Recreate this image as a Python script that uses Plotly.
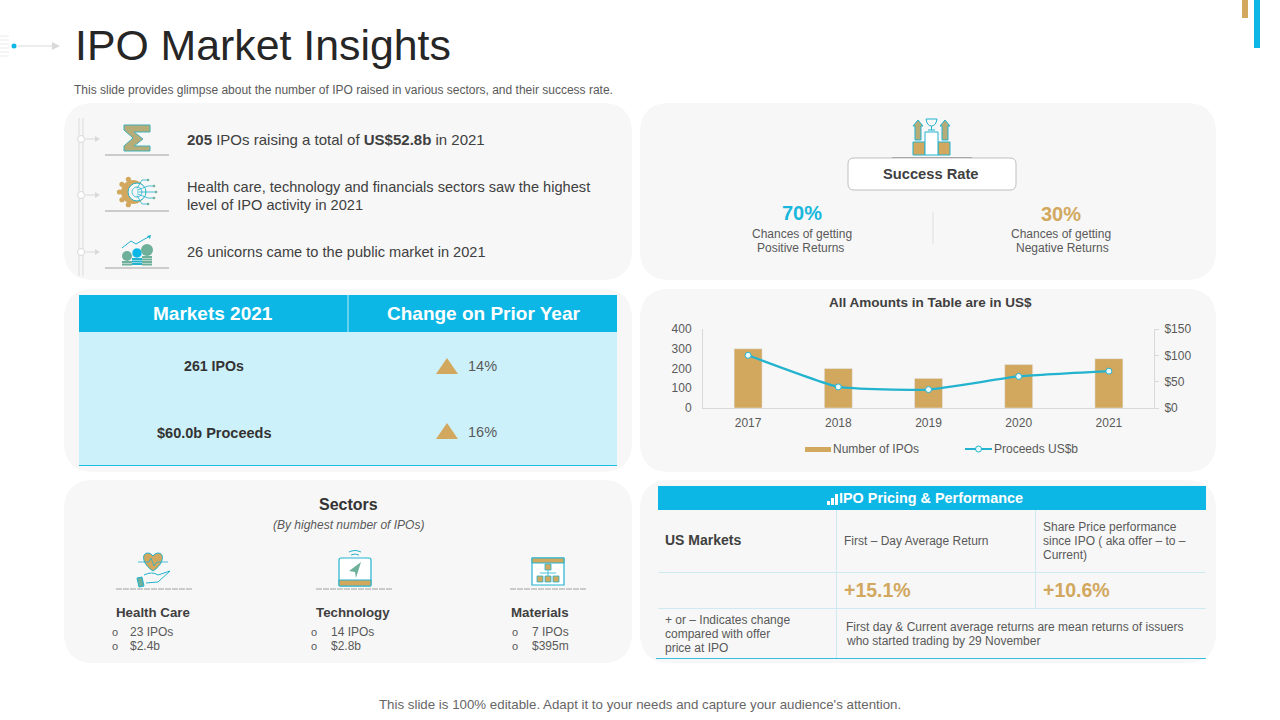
import math
import plotly.graph_objects as go

# chart data
years = ["2017", "2018", "2019", "2020", "2021"]
ipo_counts = [300, 200, 150, 220, 250]
proceeds = [100, 40, 35, 60, 70]
left_ticks = [0, 100, 200, 300, 400]
right_ticks = [0, 50, 100, 150]
right_labels = ["$0", "$50", "$100", "$150"]

# text blocks
sector_names = ["Health Care", "Technology", "Materials"]
sector_ipos = ["23 IPOs", "14 IPOs", "7 IPOs"]
sector_money = ["$2.4b", "$2.8b", "$395m"]
market_rows = ["261 IPOs", "$60.0b Proceeds"]
market_changes = ["14%", "16%"]

W, H = 1280, 720
FONT = "Liberation Sans"
CYAN = "#0DB7E5"
TEAL = "#23B3CF"
TAN = "#D2A85F"
GREEN = "#6FB09A"
PANEL = "#F7F7F7"
DARK = "#404040"
GREY = "#595959"

shapes = []
annotations = []


def px(x):
    return x / W


def py(y):
    return 1 - y / H


def path(cmds, fill=None, color=None, width=1, dash=None):
    # cmds are svg path commands in pixel coords of the slide
    out = []
    for c in cmds:
        nums = c[1:]
        pts = []
        for i in range(0, len(nums), 2):
            pts.append(f"{px(nums[i]):.5f},{py(nums[i + 1]):.5f}")
        out.append(c[0] + " ".join(pts))
    shapes.append(dict(type="path", path=" ".join(out), xref="paper", yref="paper", layer="below",
                       fillcolor=fill or "rgba(0,0,0,0)",
                       line=dict(color=color or "rgba(0,0,0,0)", width=width if color else 0, dash=dash)))


def rect(x0, y0, x1, y1, fill=None, color=None, width=1):
    path([("M", x0, y0), ("L", x1, y0), ("L", x1, y1), ("L", x0, y1), ("Z",)], fill, color, width)


def rrect(x0, y0, x1, y1, r, fill=None, color=None, width=1):
    path([("M", x0 + r, y0), ("L", x1 - r, y0), ("Q", x1, y0, x1, y0 + r), ("L", x1, y1 - r),
          ("Q", x1, y1, x1 - r, y1), ("L", x0 + r, y1), ("Q", x0, y1, x0, y1 - r),
          ("L", x0, y0 + r), ("Q", x0, y0, x0 + r, y0), ("Z",)], fill, color, width)


def seg(x0, y0, x1, y1, color, width=1, dash=None):
    path([("M", x0, y0), ("L", x1, y1)], None, color, width, dash)


def poly(pts, fill=None, color=None, width=1):
    cmds = [("M", *pts[0])] + [("L", *p) for p in pts[1:]] + [("Z",)]
    path(cmds, fill, color, width)


def dot(cx, cy, r, fill=None, color=None, width=1):
    shapes.append(dict(type="circle", xref="paper", yref="paper", layer="below",
                       x0=px(cx - r), x1=px(cx + r), y0=py(cy + r), y1=py(cy - r),
                       fillcolor=fill or "rgba(0,0,0,0)",
                       line=dict(color=color or "rgba(0,0,0,0)", width=width if color else 0)))


def label(x, y, text, size=12, color=GREY, anchor="left"):
    # left aligned annotations sit about a pixel to the right of the given x
    if anchor == "left":
        x -= 1
    annotations.append(dict(x=px(x), y=py(y), xref="paper", yref="paper", text=text, showarrow=False,
                            xanchor=anchor, yanchor="middle", align=anchor, borderpad=0,
                            font=dict(family=FONT, size=size, color=color)))


# panels
for x0, y0, x1, y1 in [(64, 103, 632, 280), (640, 103, 1216, 280), (64, 289, 632, 472),
                       (640, 289, 1216, 472), (64, 480, 632, 663), (640, 480, 1216, 663)]:
    rrect(x0, y0, x1, y1, 30, PANEL)

# top corner bars and header ornament
rect(1242, 0, 1248, 18, TAN)
rect(1254, 0, 1260, 48, CYAN)
for yy in [36, 40, 44, 48, 52, 56]:
    seg(0, yy, 9, yy, "#E3E3E3", 0.7)
seg(18, 46, 52, 46, "#D9D9D9", 1)
poly([(52, 42), (60, 46), (52, 50)], "#D9D9D9")
dot(14, 46, 2.5, CYAN)

# title
label(75, 45, "IPO Market Insights", 42.8, "#262626")
label(74, 90, "This slide provides glimpse about the number of IPO raised in various sectors, and their success rate.", 12, GREY)
label(640, 704, "This slide is 100% editable. Adapt it to your needs and capture your audience's attention.", 13.3, "#666666", "center")

# timeline on the left of the first panel
seg(79, 118, 79, 276, "#DDDDDD", 1)
seg(83, 118, 83, 276, "#DDDDDD", 1)
for yy in [139, 195, 252]:
    dot(81, yy, 3.5, "#FFFFFF", "#D9D9D9")
    seg(85, yy, 95, yy, "#D9D9D9", 1)
    poly([(95, yy - 3), (100, yy), (95, yy + 3)], "#D9D9D9")
    seg(105, yy + 16, 169, yy + 16, "#8C8C8C", 0.8)

# sigma icon
poly([(124, 125), (150, 125), (150, 132), (134, 132), (143, 139), (134, 146), (150, 146), (150, 151),
      (124, 151), (124, 146), (133, 138), (124, 130)], "#B5AC78", "#3FB0B8", 1)

# gear icon
for k in range(5):
    a = math.radians(110 + k * 35)
    dot(133 + 13.5 * math.cos(a), 192 - 13.5 * math.sin(a), 2.6, TAN)
dot(133, 192, 12, TAN)
dot(137, 192, 9, PANEL, TEAL, 1)
dot(137, 192, 5, PANEL, TEAL, 0.8)
for yy, xx in [(180, 147), (186, 153), (192, 155), (198, 153), (204, 147)]:
    path([("M", 137, 192 + (yy - 192) * 0.3), ("L", xx - 5, yy), ("L", xx, yy)], None, TEAL, 0.8)
    dot(xx + 1, yy, 1.3, GREEN)

# coins icon
dot(127, 256, 5, GREEN)
dot(137, 253, 5, CYAN, "#FFFFFF", 0.5)
dot(147, 250, 6, GREEN)
for yy in [261, 263.5]:
    rect(122, yy, 132, yy + 2, GREEN)
for yy in [258, 260.5, 263]:
    rect(132, yy, 142, yy + 2, TEAL)
for yy in [256, 258.5, 261, 263.5]:
    rect(142, yy, 152, yy + 2, GREEN)
path([("M", 122, 248), ("L", 131, 241), ("L", 136, 244), ("L", 150, 236)], None, TEAL, 1)
poly([(147, 236), (151, 235), (150, 239)], TEAL)

label(187, 140, "<b>205</b> IPOs raising a total of <b>US$52.8b</b> in 2021", 15, DARK)
label(187, 187, "Health care, technology and financials sectors saw the highest", 14.6, DARK)
label(187, 205, "level of IPO activity in 2021", 14.6, DARK)
label(187, 252, "26 unicorns came to the public market in 2021", 14.6, DARK)

# success rate
path([("M", 892, 157.5), ("L", 972, 157.5)], None, "#777777", 0.8)
rect(913, 142, 925, 155, TAN, TEAL, 1)
rect(938, 142, 950, 155, TAN, TEAL, 1)
rect(925, 132, 938, 155, "#FFFFFF", TEAL, 1)
poly([(918, 120), (923, 126), (921, 126), (921, 140), (915, 140), (915, 126), (913, 126)], "#B5AC78", TEAL, 1)
poly([(945, 120), (950, 126), (948, 126), (948, 140), (942, 140), (942, 126), (940, 126)], "#B5AC78", TEAL, 1)
path([("M", 926, 119), ("L", 937, 119), ("Q", 936, 126, 931.5, 126), ("Q", 927, 126, 926, 119), ("Z",)], None, TEAL, 1)
seg(931.5, 126, 931.5, 130, TEAL, 1)
seg(928, 130, 935, 130, TEAL, 1)
rrect(848, 158, 1016, 190, 6, "#FFFFFF", "#BFBFBF", 1)
label(931, 174, "<b>Success Rate</b>", 14.7, DARK, "center")
label(802, 213, "<b>70%</b>", 20, "#1AB7DD", "center")
label(1061, 214, "<b>30%</b>", 20, TAN, "center")
label(802, 234, "Chances of getting", 12, GREY, "center")
label(800, 248, "Positive Returns", 12, GREY, "center")
label(1061, 234, "Chances of getting", 12, GREY, "center")
label(1062, 248, "Negative Returns", 12, GREY, "center")
seg(933, 212, 933, 244, "#DEDEDE", 1)

# markets table
rect(79, 295, 617, 332, CYAN)
rect(79, 332, 617, 465, "#CDF1FA")
seg(79, 465.5, 617, 465.5, "#19BDE4", 1)
seg(348, 295, 348, 332, "#BDEBF7", 1)
label(213, 313, "<b>Markets 2021</b>", 19, "#FFFFFF", "center")
label(483, 313, "<b>Change on Prior Year</b>", 19, "#FFFFFF", "center")
for yy, row, chg, size in zip([366, 433], market_rows, market_changes, [14.2, 14.5]):
    label(213.5, yy, f"<b>{row}</b>", size, "#333333", "center")
    label(468, yy - (1 if yy == 433 else 0), chg, 14.5, GREY)
poly([(436, 374), (447, 358), (458, 374)], TAN)
poly([(436, 439), (447, 423), (458, 439)], TAN)

# sectors
label(348, 505, "<b>Sectors</b>", 16, "#333333", "center")
label(348, 525, "<i>(By highest number of IPOs)</i>", 12, GREY, "center")
for i, (cx, nx, ox, tx) in enumerate([(154, 153, 115, 130), (354, 353, 314, 331), (548, 540, 515, 532)]):
    seg(cx - 38, 589, cx + 38, 589, "#8C8C8C", 0.8, "6px,1px")
    label(nx, 612, f"<b>{sector_names[i]}</b>", 13.3, DARK, "center")
    label(ox, 632, "o", 11, GREY, "center")
    label(ox, 646, "o", 11, GREY, "center")
    label(tx, 632, sector_ipos[i], 12, GREY)
    label(tx, 646, sector_money[i], 12, GREY)

# heart icon
path([("M", 153, 571), ("C", 142, 564, 141, 553, 148, 553), ("Q", 151, 553, 153, 556),
      ("Q", 155, 553, 158, 553), ("C", 165, 553, 164, 564, 153, 571), ("Z",)], TAN, TEAL, 1)
path([("M", 138, 562), ("L", 149, 562), ("L", 151, 558), ("L", 154, 566), ("L", 157, 562), ("L", 168, 562)], None, TEAL, 0.8)
path([("M", 144, 575), ("Q", 152, 571, 158, 575), ("L", 170, 571), ("L", 158, 582), ("L", 146, 583)], None, TEAL, 1)
poly([(137, 578), (142, 577), (144, 586), (139, 587)], GREEN, TEAL, 1)

# tablet icon
rrect(339, 558, 371, 586, 2, "#FFFFFF", TEAL, 1.2)
rect(339, 580, 371, 586, TAN, TEAL, 1)
poly([(361, 562), (349, 571), (355, 572), (356, 578)], GREEN)
path([("M", 349, 552), ("Q", 355, 549, 361, 552)], None, TEAL, 1)
path([("M", 351, 555), ("Q", 355, 553, 359, 555)], None, TEAL, 1)

# folder icon
rect(532, 558, 564, 585, "#FFFFFF", TEAL, 1.2)
rect(532, 558, 564, 563, TAN, TEAL, 1)
rect(545, 564, 551, 570, TAN, TEAL, 0.8)
for xx in [537, 545, 553]:
    rect(xx, 576, xx + 6, 582, TAN, TEAL, 0.8)
seg(548, 570, 548, 576, TEAL, 0.8)
seg(540, 573, 556, 573, TEAL, 0.8)

# pricing table
rect(658, 486, 1206, 510, CYAN)
label(931, 498, "<b>IPO Pricing &amp; Performance</b>", 14.4, "#FFFFFF", "center")
for xx, h in zip([827, 831, 835], [4, 7, 11]):
    rect(xx, 505 - h, xx + 3, 505, "#FFFFFF")
for yy in [572.5, 608.5]:
    seg(658, yy, 1206, yy, "#CFEAF3", 1)
seg(836.5, 510, 836.5, 658, "#CFEAF3", 1)
seg(1035.5, 510, 1035.5, 608, "#CFEAF3", 1)
seg(656, 658.5, 1206, 658.5, "#35BEDF", 1.2)
label(665, 540, "<b>US Markets</b>", 14, DARK)
label(844, 541, "First – Day Average Return", 12, GREY)
label(1043, 527, "Share Price performance", 12, GREY)
label(1043, 541, "since IPO ( aka offer – to –", 12, GREY)
label(1043, 555, "Current)", 12, GREY)
label(844, 590, "<b>+15.1%</b>", 19.5, TAN)
label(1043, 590, "<b>+10.6%</b>", 19.5, TAN)
label(665, 620, "+ or – Indicates change", 12, GREY)
label(665, 634, "compared with offer", 12, GREY)
label(665, 648, "price at IPO", 12, GREY)
label(846, 627, "First day &amp; Current average returns are mean returns of issuers", 12, GREY)
label(846, 641, "who started trading by 29 November", 12, GREY)

# chart title
label(930, 302, "<b>All Amounts in Table are in US$</b>", 13.5, DARK, "center")

# legend drawn by hand, the bar key in the source is a wide swatch
rect(805, 447, 831, 452, TAN)
label(833, 449, "Number of IPOs", 12, GREY)
seg(965, 449, 992, 449, TEAL, 2)
dot(978.5, 449, 3, "#E8FBFF", TEAL, 1)
label(994, 449, "Proceeds US$b", 12, GREY)

fig = go.Figure()
fig.add_trace(go.Bar(x=years, y=ipo_counts, name="Number of IPOs", marker_color=TAN, width=0.31, yaxis="y"))
fig.add_trace(go.Scatter(x=years, y=proceeds, name="Proceeds US$b", yaxis="y2", mode="lines+markers",
                         line=dict(color=TEAL, width=2.2, shape="spline", smoothing=0.4),
                         marker=dict(size=6, color="#E8FBFF", line=dict(color=TEAL, width=1))))

tick_font = dict(family=FONT, size=12, color=GREY)
hidden_tick = "rgba(0,0,0,0)"
fig.update_layout(
    width=W, height=H, margin=dict(l=0, r=0, t=0, b=0, autoexpand=False), autosize=False,
    paper_bgcolor="#FFFFFF", plot_bgcolor="rgba(0,0,0,0)", font=dict(family=FONT),
    shapes=shapes, annotations=annotations, showlegend=False,
    xaxis=dict(domain=[px(703), px(1154)], type="category", showgrid=False, linecolor="#D9D9D9",
               showline=True, tickfont=tick_font, ticks="outside", ticklen=4, tickcolor=hidden_tick, anchor="y"),
    yaxis=dict(domain=[py(408), py(329)], range=[0, 400], tickvals=left_ticks, showgrid=False,
               showline=True, linecolor="#D9D9D9", tickfont=tick_font, zeroline=False,
               ticks="outside", ticklen=8, tickcolor=hidden_tick),
    yaxis2=dict(domain=[py(408), py(329)], range=[0, 150], tickvals=right_ticks, ticktext=right_labels,
                overlaying="y", side="right", showgrid=False, showline=True, linecolor="#D9D9D9",
                tickfont=tick_font, ticks="outside", ticklen=4, tickcolor="#D9D9D9", zeroline=False,
                ticklabelstandoff=3),
)

fig.write_html("out.html", config={"displayModeBar": False},
               post_script="document.body.style.margin='0';document.documentElement.style.overflow='hidden';")
